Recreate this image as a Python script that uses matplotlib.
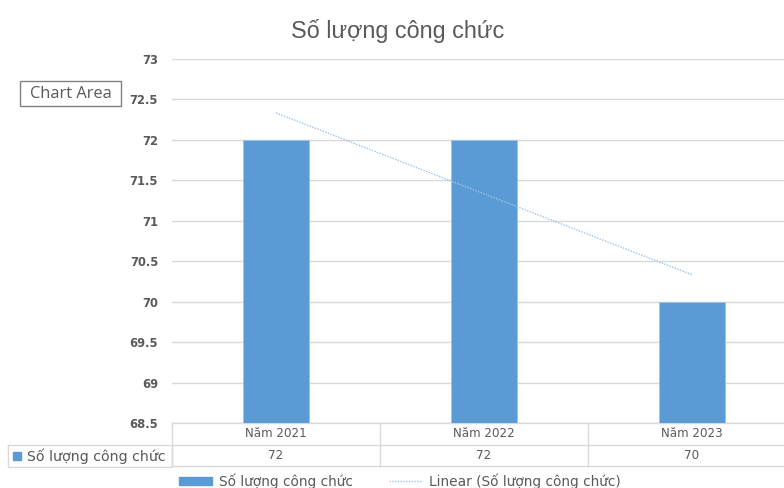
import numpy as np
import matplotlib.pyplot as plt
from matplotlib.lines import Line2D
from matplotlib.patches import Patch

# du lieu
years = ["Năm 2021", "Năm 2022", "Năm 2023"]
values = [72, 72, 70]
series_name = "Số lượng công chức"
title = "Số lượng công chức"
y_ticks = [68.5, 69, 69.5, 70, 70.5, 71, 71.5, 72, 72.5, 73]

bar_color = "#5b9bd5"
text_color = "#595959"
grid_color = "#d9d9d9"

W, H = 784, 488
fig = plt.figure(figsize=(W / 100, H / 100), dpi=100)

# vung do thi (pixel -> ty le figure), phan ben phai bi cat
left, right, top, bottom = 172, 796, 59, 423
ax = fig.add_axes([left / W, (H - bottom) / H, (right - left) / W, (bottom - top) / H])

x = np.arange(len(years))
ax.bar(x, values, width=0.315, color=bar_color, edgecolor="#9dc3e6", linewidth=0.6, zorder=3)

# duong xu huong tuyen tinh
k, n = np.polyfit(x, values, 1)
ax.plot(x[[0, -1]], k * x[[0, -1]] + n, color="#9dc3e6", linestyle=(0, (1, 1)),
        linewidth=1.0, zorder=4)

ax.set_xlim(-0.5, len(years) - 0.5)
ax.set_ylim(y_ticks[0], y_ticks[-1])
ax.set_yticks(y_ticks)
ax.set_yticklabels([f"{t:g}" for t in y_ticks], fontsize=8.3, color=text_color,
                   fontweight="bold", family="DejaVu Sans")
ax.set_xticks([])
ax.tick_params(axis="y", length=0, pad=10)
ax.grid(axis="y", color=grid_color, linewidth=1, zorder=0)
for s in ax.spines.values():
    s.set_visible(False)

fig.text(398 / W, 1 - 31 / H, title, fontsize=16.8, color=text_color,
         family="Liberation Sans", ha="center", va="center")

# bang du lieu phia duoi
tr = ax.get_xaxis_transform()
row_h = 21.5 / (bottom - top)
line_kw = dict(color=grid_color, linewidth=1, clip_on=False, transform=tr)
for yy in [0, -row_h, -2 * row_h]:
    ax.add_line(Line2D([-0.5, len(years) - 0.5], [yy, yy], **line_kw))
for xx in np.arange(len(years) + 1) - 0.5:
    ax.add_line(Line2D([xx, xx], [0, -2 * row_h], **line_kw))
for i, (yr, v) in enumerate(zip(years, values)):
    ax.text(i, -0.5 * row_h, yr, transform=tr, ha="center", va="center",
            fontsize=8.6, color=text_color, family="DejaVu Sans")
    ax.text(i, -1.5 * row_h, f"{v}", transform=tr, ha="center", va="center",
            fontsize=8.6, color=text_color, family="DejaVu Sans")

# o tieu de hang ben trai
fl = Line2D([8 / W, left / W, left / W, 8 / W, 8 / W],
            [1 - 445 / H, 1 - 445 / H, 1 - 466.5 / H, 1 - 466.5 / H, 1 - 445 / H],
            color=grid_color, linewidth=1, transform=fig.transFigure)
fig.add_artist(fl)
fig.patches.append(plt.Rectangle((13 / W, 1 - 460 / H), 8 / W, 8 / H, color=bar_color,
                                 transform=fig.transFigure))
fig.text(27 / W, 1 - 456 / H, series_name, fontsize=10.2, color=text_color,
         family="DejaVu Sans", va="center")

# chu giai
handles = [Patch(color=bar_color),
           Line2D([], [], color="#9dc3e6", linestyle=(0, (1, 1)), linewidth=1)]
labels = [series_name, f"Linear ({series_name})"]
fig.legend(handles, labels, loc="center", bbox_to_anchor=(400 / W, 1 - 481 / H),
           ncol=2, frameon=False, labelcolor=text_color,
           handlelength=2.4, handleheight=0.6, columnspacing=2.6, handletextpad=0.5,
           prop={"family": "DejaVu Sans", "size": 9.9})

# nhan "Chart Area"
fig.patches.append(plt.Rectangle((20 / W, 1 - 106 / H), 101 / W, 25 / H, facecolor="white",
                                 edgecolor="#808080", linewidth=1,
                                 transform=fig.transFigure))
fig.text(70.5 / W, 1 - 94 / H, "Chart Area", fontsize=11.8, color=text_color,
         family="Open Sans", ha="center", va="center")

fig.savefig("out.png", dpi=100)
